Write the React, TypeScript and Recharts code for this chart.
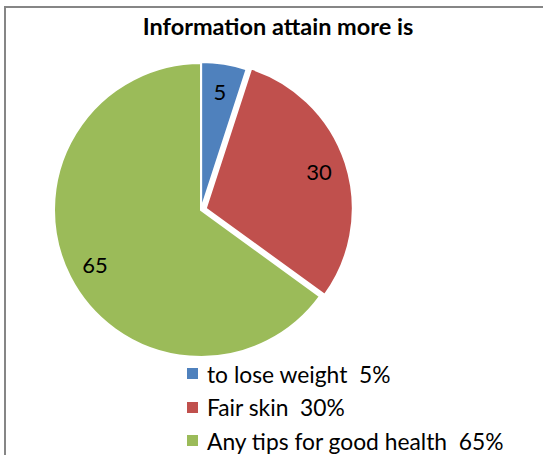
import React from 'react';
import { PieChart, Pie, Cell, Sector } from 'recharts';

const categories = ['to lose weight  5%', 'Fair skin  30%', 'Any tips for good health  65%'];
const values = [5, 30, 65];
const labels = ['5', '30', '65'];
const colors = ['#4F81BD', '#C0504D', '#9BBB59'];
const explode = [1, 5, 0];

const data = categories.map((name, i) => ({ name, value: values[i], label: labels[i] }));

const FONT = 'Lato, "Open Sans", sans-serif';
const RAD = Math.PI / 180;

const renderShape = (props: any) => {
  const { cx, cy, midAngle, index } = props;
  const off = explode[index] ?? 0;
  const dx = off * Math.cos(-midAngle * RAD);
  const dy = off * Math.sin(-midAngle * RAD);
  return <Sector {...props} cx={cx + dx} cy={cy + dy} />;
};

const renderLabel = (props: any) => {
  const { cx, cy, midAngle, outerRadius, index } = props;
  const off = explode[index] ?? 0;
  const r = outerRadius * 0.81 + off;
  const x = cx + r * Math.cos(-midAngle * RAD);
  const y = cy + r * Math.sin(-midAngle * RAD);
  return (
    <text x={x} y={y} textAnchor="middle" dominantBaseline="central" fill="#000" fontSize={22} fontFamily={FONT}>
      {data[index].label}
    </text>
  );
};

export default function App() {
  return (
    <div style={{ position: 'absolute', left: 0, top: 0, width: 543, height: 455, overflow: 'hidden', background: '#fff' }}>
      <div style={{ position: 'absolute', left: 4, top: 6, width: 560, height: 480, border: '2px solid #868686', boxSizing: 'border-box' }} />
      <div style={{ position: 'absolute', left: 0, top: 12, width: 556, textAlign: 'center', fontFamily: FONT, fontWeight: 'bold', fontSize: 23.5, color: '#000' }}>
        Information attain more is
      </div>
      <div style={{ position: 'absolute', left: 0, top: 0 }}>
        <PieChart width={543} height={455} margin={{ top: 0, right: 0, bottom: 0, left: 0 }}>
          <Pie
            data={data}
            dataKey="value"
            nameKey="name"
            cx={201}
            cy={210}
            outerRadius={147}
            startAngle={90}
            endAngle={-270}
            stroke="#fff"
            strokeWidth={2}
            isAnimationActive={false}
            labelLine={false}
            label={renderLabel}
            shape={renderShape}
          >
            {data.map((d, i) => (
              <Cell key={d.name} fill={colors[i]} />
            ))}
          </Pie>
        </PieChart>
      </div>
      <div style={{ position: 'absolute', left: 187, top: 357, width: 360, fontFamily: FONT, fontSize: 22.8, color: '#000' }}>
        {data.map((d, i) => (
          <div key={d.name} style={{ display: 'flex', alignItems: 'center', height: 33.5 }}>
            <span style={{ width: 11, height: 11, background: colors[i], display: 'inline-block', marginRight: 9 }} />
            <span style={{ whiteSpace: 'pre' }}>{d.name}</span>
          </div>
        ))}
      </div>
    </div>
  );
}
